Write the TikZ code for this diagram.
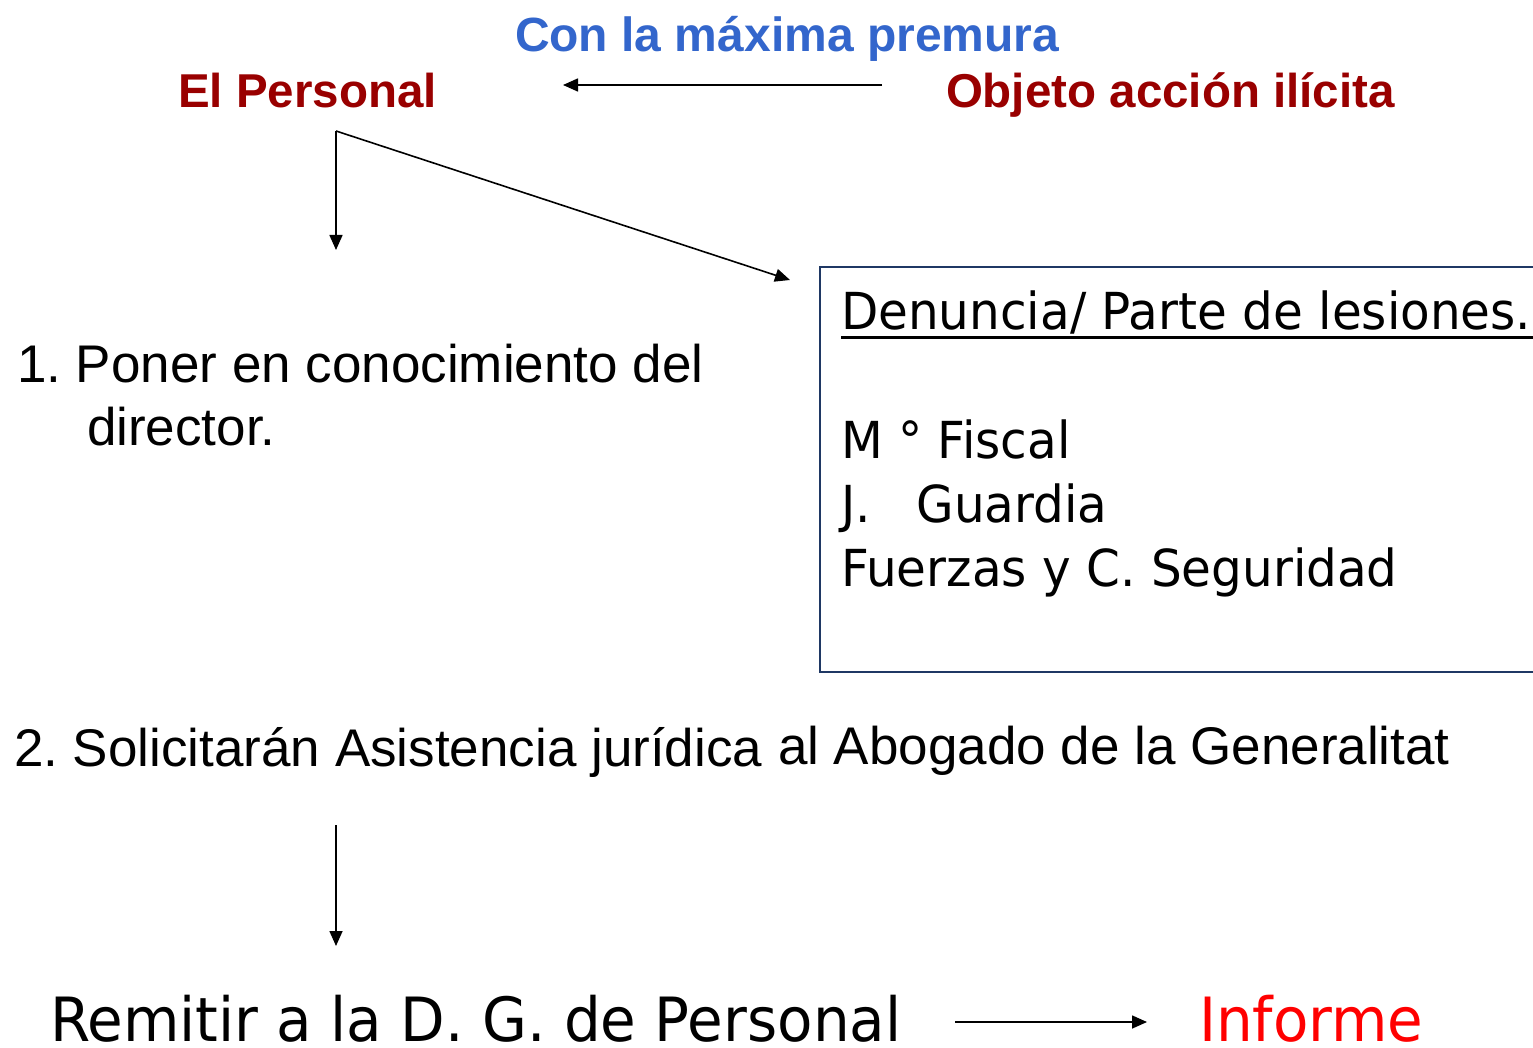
\documentclass[tikz,border=0pt]{standalone}
\usepackage{fontspec}
\setmainfont{Liberation Sans}
\newfontfamily\narrowf[FakeStretch=0.95]{DejaVu Sans}
\usetikzlibrary{arrows.meta}
\definecolor{titleblue}{HTML}{3366CC}
\definecolor{darkred}{HTML}{990000}
\definecolor{boxnavy}{HTML}{1F3864}
\tikzset{
  txt/.style={anchor=base west, inner sep=0pt, outer sep=0pt},
  headb/.style={txt, font=\frenchspacing\fontsize{48}{58}\selectfont\bfseries, text=titleblue},
  headr/.style={txt, font=\frenchspacing\fontsize{47.5}{58}\selectfont\bfseries, text=darkred},
  body/.style={txt, font=\frenchspacing\fontsize{53}{64}\selectfont},
  boxtxt/.style={txt, font=\frenchspacing\narrowf\fontsize{51}{64}\selectfont},
  bigtxt/.style={txt, font=\frenchspacing\narrowf\fontsize{61}{72}\selectfont},
  conn/.style={line width=1.6pt, -{Triangle[length=15pt,width=13pt]}},
}
\begin{document}
\begin{tikzpicture}[x=1pt,y=-1pt]
\useasboundingbox (0,0) rectangle (1533,1048);
% titles
\node[headb] (premura) at (515,52) {Con la máxima premura};
\node[headr] (personal) at (178,108) {El Personal};
\node[headr] (objeto) at (946,108) {Objeto acción ilícita};
% step 1
\node[body] (paso1a) at (17,382) {1. Poner en conocimiento del};
\node[body] (paso1b) at (87,445) {director.};
% box
\draw[boxnavy, line width=1.8pt] (1534,267) -- (820,267) -- (820,672) -- (1534,672);
\node[boxtxt] (denuncia) at (841,330) {Denuncia/ Parte de lesiones.};
\draw[line width=3pt] (denuncia.base west) ++(0,8) -- ++(692,0);
\node[boxtxt] (fiscal) at (841,458) {M ° Fiscal};
\node[boxtxt] (guardia) at (841,522) {J.\hspace{0.9em}Guardia};
\node[boxtxt] (fuerzas) at (841,586) {Fuerzas y C. Seguridad};
% step 2
\node[body] (paso2) at (14,766) {2. Solicitarán Asistencia jurídica};
\node[body] (abogado) at (778,764) {al Abogado de la Generalitat};
% bottom
\node[bigtxt] (remitir) at (50,1041) {Remitir a la D. G. de Personal};
\node[bigtxt, text=red] (informe) at (1199,1041) {Informe};
% connectors
\coordinate (objL) at (882,85);
\coordinate (persR) at (563,85);
\draw[conn] (objL) -- (persR);
\coordinate (split) at (336,131);
\coordinate (downend) at (336,250);
\coordinate (diagend) at (790,280);
\draw[conn] (split) -- (diagend);
\draw[conn] (split) -- (downend);
\coordinate (v2top) at (336,825);
\coordinate (v2bot) at (336,946);
\draw[conn] (v2top) -- (v2bot);
\coordinate (hbl) at (955,1022);
\coordinate (hbr) at (1147,1022);
\draw[conn] (hbl) -- (hbr);
\end{tikzpicture}
\end{document}
